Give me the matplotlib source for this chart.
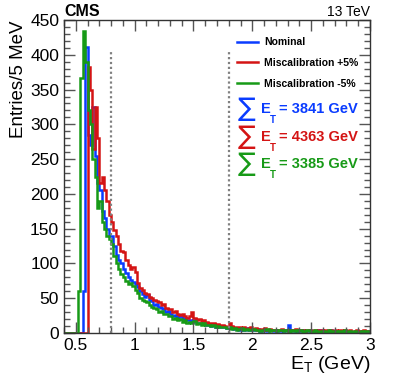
import numpy as np
import matplotlib
matplotlib.use("Agg")
import matplotlib.pyplot as plt
from matplotlib.ticker import MultipleLocator
from matplotlib.lines import Line2D

plt.rcParams['font.family'] = ['Liberation Sans', 'DejaVu Sans']

# ---- data (bins of 0.02 GeV starting at 0.40 GeV) ----
bin_lo, bin_hi, bin_w = 0.40, 3.00, 0.02

nominal = [
    0, 0, 0, 0, 0, 0, 0, 0, 60, 411,
    285, 270, 325, 255, 215, 205, 175, 165, 150, 140,
    140, 125, 112, 105, 100, 92, 86, 80, 76, 74,
    70, 66, 60, 56, 52, 54, 48, 46, 40, 42,
    38, 36, 34, 30, 32, 28, 25, 26, 22, 24,
    20, 21, 18, 19, 16, 18, 14, 15, 13, 14,
    12, 13, 10, 12, 9, 11, 9, 8, 9, 7,
    8, 7, 6, 7, 5, 6, 5, 7, 4, 5,
    5, 4, 6, 3, 5, 4, 3, 5, 4, 3,
    4, 3, 5, 3, 4, 11, 3, 4, 2, 4,
    3, 4, 2, 3, 4, 3, 2, 3, 4, 2,
    3, 2, 3, 4, 2, 3, 2, 3, 2, 3,
    2, 3, 2, 2, 3, 2, 3, 2, 2, 3,
]
plus5 = [
    0, 0, 0, 0, 0, 0, 0, 0, 0, 0,
    383, 350, 265, 325, 280, 215, 225, 205, 190, 170,
    160, 148, 140, 128, 118, 116, 105, 98, 92, 95,
    88, 72, 64, 62, 58, 56, 52, 50, 48, 46,
    44, 40, 42, 36, 34, 35, 30, 32, 28, 26,
    27, 24, 22, 24, 30, 22, 18, 20, 17, 18,
    16, 15, 14, 15, 12, 13, 11, 12, 10, 9,
    14, 10, 9, 8, 9, 7, 8, 6, 7, 8,
    6, 7, 5, 6, 4, 7, 5, 6, 4, 5,
    5, 4, 6, 4, 5, 3, 5, 4, 6, 4,
    4, 5, 3, 4, 5, 3, 4, 3, 5, 4,
    3, 4, 3, 4, 3, 5, 3, 4, 3, 4,
    3, 4, 2, 3, 4, 3, 2, 4, 3, 3,
]
minus5 = [
    0, 0, 0, 0, 0, 0, 60, 366, 434, 390,
    320, 300, 250, 225, 180, 190, 160, 150, 140, 135,
    128, 110, 100, 92, 85, 80, 75, 70, 72, 68,
    62, 58, 50, 48, 46, 44, 40, 38, 36, 34,
    30, 32, 27, 28, 24, 25, 20, 22, 18, 20,
    16, 18, 15, 16, 14, 17, 13, 15, 12, 14,
    11, 12, 10, 11, 9, 10, 8, 9, 8, 7,
    8, 6, 7, 5, 6, 7, 5, 6, 4, 5,
    6, 4, 5, 3, 5, 4, 6, 3, 4, 5,
    3, 4, 5, 3, 4, 2, 4, 3, 5, 3,
    4, 2, 3, 4, 3, 2, 4, 3, 2, 3,
    3, 2, 4, 2, 3, 3, 2, 3, 2, 4,
    2, 3, 2, 3, 2, 2, 3, 2, 3, 2,
]
labels = ["Nominal", "Miscalibration +5%", "Miscalibration -5%"]
colors = ["#0a3cff", "#d41414", "#179a17"]
sums = ["3841", "4363", "3385"]
cut_lines = [0.8, 1.8]
cut_top = 405

edges = np.linspace(bin_lo, bin_hi, len(nominal) + 1)

W, H = 399, 383
fig = plt.figure(figsize=(W / 100, H / 100), dpi=100)
ax = fig.add_axes([64 / W, 50 / H, 306 / W, 313 / H])

series = [nominal, plus5, minus5]
for vals, col in zip(series, colors):
    ax.stairs(vals, edges, color=col, lw=1.8, baseline=None)

for xc in cut_lines:
    ax.plot([xc, xc], [0, cut_top], ls=(0, (1, 1.2)), color="#808080", lw=1.6)

ax.set_xlim(0.4, 3.0)
ax.set_ylim(0, 450)
ax.xaxis.set_major_locator(MultipleLocator(0.5))
ax.xaxis.set_minor_locator(MultipleLocator(0.1))
ax.yaxis.set_major_locator(MultipleLocator(50))
ax.yaxis.set_minor_locator(MultipleLocator(10))
ax.tick_params(which="both", direction="in", top=True, right=True,
               color="#555555", labelsize=12.5)
ax.tick_params(which="major", length=8, width=1)
ax.tick_params(which="minor", length=4, width=1)
ax.set_xticks([0.5, 1, 1.5, 2, 2.5, 3])
ax.set_xticklabels(["0.5", "1", "1.5", "2", "2.5", "3"])
for s in ax.spines.values():
    s.set_linewidth(1.0)
    s.set_color("#333333")

ax.set_ylabel("Entries/5 MeV", fontsize=13.5, loc="top", labelpad=2)
ax.set_xlabel(r"E$_\mathregular{T}$ (GeV)", fontsize=14, loc="right", labelpad=1)

fig.text(64 / W, 1 - 11 / H, "CMS", fontsize=11.5, fontweight="bold", va="center", ha="left")
fig.text(370 / W, 1 - 12 / H, "13 TeV", fontsize=10, va="center", ha="right")

handles = [Line2D([0], [0], color=c, lw=1.8) for c in colors]
leg = ax.legend(handles, labels, loc="upper left", bbox_to_anchor=(0.535, 0.975),
                frameon=False, prop={"weight": "bold", "size": 7.5},
                handlelength=2.0, handletextpad=0.6, labelspacing=1.05)

ys = [109, 137, 164]
for yy, col, sv in zip(ys, colors, sums):
    fy = 1 - yy / H
    fig.text(238 / W, fy, "\u2211", fontsize=19, color=col, va="center", ha="left",
             family="DejaVu Sans")
    fig.text(261 / W, fy, "E", fontsize=10.5, color=col, weight="bold", va="center", ha="left")
    fig.text(270 / W, fy - 11 / H, "T", fontsize=7, color=col, weight="bold", va="center", ha="left")
    fig.text(279 / W, fy, "= " + sv + " GeV", fontsize=10.5, color=col, weight="bold",
             va="center", ha="left")

fig.savefig("out.png", dpi=100)
